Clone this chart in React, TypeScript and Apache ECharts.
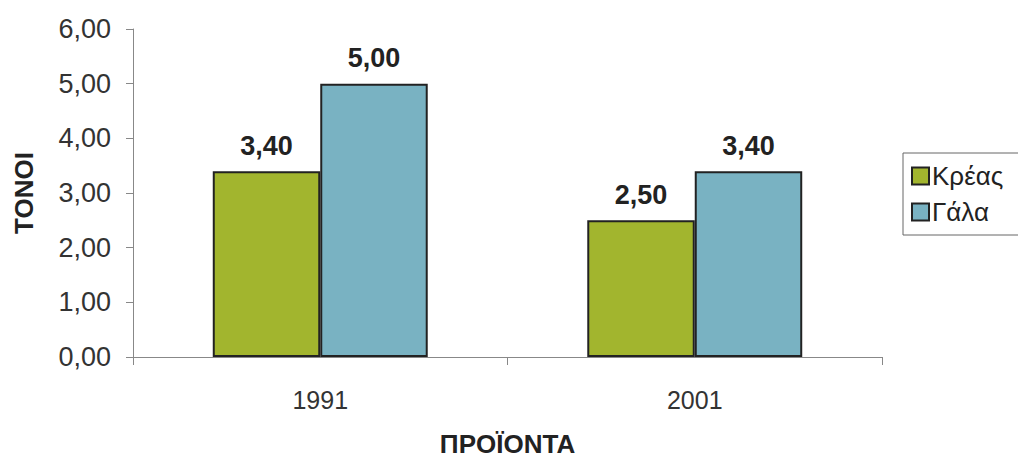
import React, { useEffect, useRef } from "react";
import * as echarts from "echarts";

const categories = ["1991", "2001"];
const meatValues = [3.4, 2.5];
const milkValues = [5.0, 3.4];
const seriesNames = ["Κρέας", "Γάλα"];
const yTicks = [0, 1, 2, 3, 4, 5, 6];

const fmt = (v: number) => v.toFixed(2).replace(".", ",");
const FONT = "Liberation Sans, Arial, sans-serif";

export default function App() {
  const ref = useRef<HTMLDivElement>(null);
  useEffect(() => {
    if (!ref.current) return;
    const chart = echarts.init(ref.current, undefined, { renderer: "svg" });
    const labelStyle = {
      show: true,
      position: "top" as const,
      distance: 12,
      formatter: (p: any) => fmt(p.value),
      fontFamily: FONT,
      fontWeight: "bold" as const,
      fontSize: 27,
      color: "#222",
    };
    chart.setOption({
      animation: false,
      backgroundColor: "#ffffff",
      grid: {
        left: 133,
        top: 29,
        right: 136,
        bottom: 101,
        containLabel: false,
        outerBoundsMode: "none",
      },
      legend: {
        orient: "vertical",
        left: 903,
        top: 153,
        padding: [10, 40, 10, 8],
        borderColor: "#666",
        borderWidth: 1,
        itemWidth: 17,
        itemHeight: 17,
        itemGap: 10,
        textStyle: { fontFamily: FONT, fontSize: 26, color: "#222", padding: [0, 0, 0, -2] },
        data: seriesNames.map((n) => ({ name: n, icon: "rect" })),
      },
      xAxis: {
        type: "category",
        data: categories,
        name: "ΠΡΟΪΟΝΤΑ",
        nameLocation: "middle",
        nameGap: 74,
        nameTextStyle: { fontFamily: FONT, fontSize: 26, fontWeight: "bold", color: "#222" },
        axisLine: { lineStyle: { color: "#888", width: 1 } },
        axisTick: { show: true, length: 8, lineStyle: { color: "#888" } },
        axisLabel: { fontFamily: FONT, fontSize: 25, color: "#333", margin: 30 },
      },
      yAxis: {
        type: "value",
        min: 0,
        max: 6,
        interval: 1,
        name: "ΤΟΝΟΙ",
        nameLocation: "middle",
        nameGap: 96,
        nameTextStyle: { fontFamily: FONT, fontSize: 26, fontWeight: "bold", color: "#222" },
        splitLine: { show: false },
        axisLine: { show: true, lineStyle: { color: "#888", width: 1 } },
        axisTick: { show: true, length: 7, lineStyle: { color: "#888" } },
        axisLabel: {
          fontFamily: FONT,
          fontSize: 27,
          color: "#333",
          margin: 22,
          formatter: (v: number) => (yTicks.includes(v) ? fmt(v) : ""),
        },
      },
      series: [
        {
          name: seriesNames[0],
          type: "bar",
          data: meatValues,
          barGap: "0%",
          barCategoryGap: "42.6%",
          itemStyle: { color: "#a2b52e", borderColor: "#222", borderWidth: 2 },
          label: labelStyle,
        },
        {
          name: seriesNames[1],
          type: "bar",
          data: milkValues,
          barGap: "0%",
          barCategoryGap: "42.6%",
          itemStyle: { color: "#79b2c2", borderColor: "#222", borderWidth: 2 },
          label: labelStyle,
        },
      ],
    });
    return () => chart.dispose();
  }, []);
  return (
    <div
      ref={ref}
      style={{ position: "fixed", left: 0, top: 0, width: 1018, height: 458 }}
    />
  );
}
